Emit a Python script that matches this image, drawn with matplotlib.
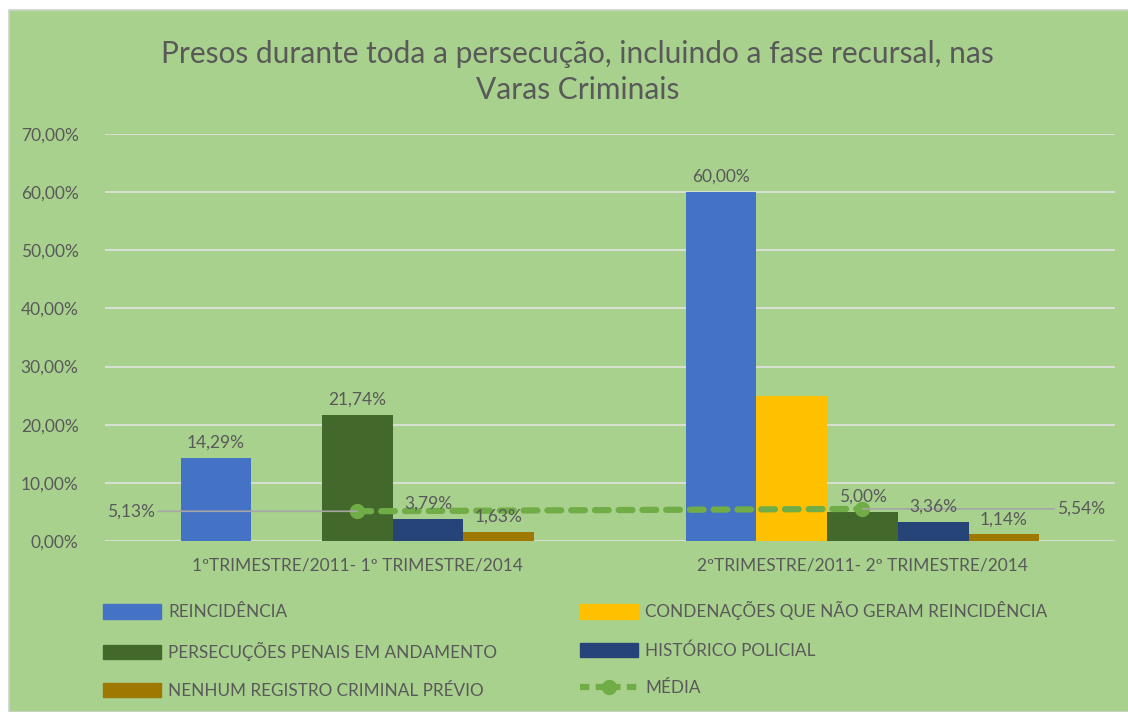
import matplotlib.pyplot as plt
import numpy as np
from matplotlib.patches import Rectangle
from matplotlib.lines import Line2D

plt.rcParams['font.family'] = ['Lato', 'DejaVu Sans']

categorias = ["1ºTRIMESTRE/2011- 1º TRIMESTRE/2014", "2ºTRIMESTRE/2011- 2º TRIMESTRE/2014"]
series = ["REINCIDÊNCIA", "CONDENAÇÕES QUE NÃO GERAM REINCIDÊNCIA",
          "PERSECUÇÕES PENAIS EM ANDAMENTO", "HISTÓRICO POLICIAL",
          "NENHUM REGISTRO CRIMINAL PRÉVIO"]
reincidencia = [14.29, 60.00]
condenacoes = [0.0, 25.0]
persecucoes = [21.74, 5.00]
historico = [3.79, 3.36]
nenhum = [1.63, 1.14]
media = [5.13, 5.54]
mostrar_rotulo = [[True, True], [False, False], [True, True], [True, True], [True, True]]

cores = ["#4472C4", "#FFC000", "#43682B", "#264478", "#9E7800"]
fundo = "#A9D18E"
texto = "#595959"

fig = plt.figure(figsize=(11.28, 7.12), dpi=100)
fig.patch.set_facecolor("white")
fig.patches.append(Rectangle((9 / 1128, 0), 1, 1 - 10 / 712, transform=fig.transFigure,
                             facecolor=fundo, edgecolor="#D0D0D0", linewidth=1.2, zorder=-10))

ax = fig.add_axes([0.093, 0.240, 0.8955, 0.572])
ax.set_facecolor("none")

x = np.arange(len(categorias))
largura = 0.14
valores = [reincidencia, condenacoes, persecucoes, historico, nenhum]
for i, (nome, vals) in enumerate(zip(series, valores)):
    pos = x + (i - 2) * largura
    barras = ax.bar(pos, vals, largura, color=cores[i], label=nome, zorder=2)
    for j, b in enumerate(barras):
        if mostrar_rotulo[i][j]:
            ax.text(b.get_x() + b.get_width() / 2, vals[j] + 1.2,
                    f"{vals[j]:.2f}%".replace(".", ","), ha="center", va="bottom",
                    fontsize=12.5, color=texto, zorder=4)

ax.plot(x, media, color="#70AD47", linestyle=(0, (2.2, 1.6)), linewidth=4.5,
        marker="o", markersize=10, zorder=3, solid_capstyle="round",
        dash_capstyle="round")

# rotulos da média com linhas de chamada
ax.annotate("5,13%", xy=(x[0], media[0]), xytext=(-0.495, media[0]),
            ha="left", va="center", fontsize=12.5, color=texto,
            arrowprops=dict(arrowstyle="-", color="#A6A6A6", lw=1.2, shrinkA=0, shrinkB=0))
ax.annotate("5,54%", xy=(x[1], media[1]), xytext=(1.385, media[1]),
            ha="left", va="center", fontsize=12.5, color=texto,
            arrowprops=dict(arrowstyle="-", color="#A6A6A6", lw=1.2, shrinkA=0, shrinkB=0))

ax.set_xlim(-0.5, 1.5)
ax.set_ylim(0, 70)
ax.set_yticks(np.arange(0, 71, 10))
ax.set_yticklabels([f"{v:.2f}%".replace(".", ",") for v in np.arange(0, 71, 10)])
ax.set_xticks(x)
ax.set_xticklabels(categorias)
ax.tick_params(axis="both", length=0, labelsize=12.5, labelcolor=texto)
ax.tick_params(axis="x", pad=12)
ax.tick_params(axis="y", pad=19)
ax.grid(axis="y", color="#E2E2E2", linewidth=1.2, zorder=0)
for s in ax.spines.values():
    s.set_visible(False)

fig.text(0.512, 0.899, "Presos durante toda a persecução, incluindo a fase recursal, nas\nVaras Criminais",
         ha="center", va="center", fontsize=21.5, color=texto, linespacing=1.35)

handles = [Rectangle((0, 0), 1, 1, color=c) for c in cores]
h_media = Line2D([], [], color="#70AD47", linestyle=(0, (1.5, 1.0)), linewidth=4.5,
                 marker="o", markersize=10)
ordem_h = [handles[0], handles[2], handles[4], handles[1], handles[3], h_media]
ordem_l = [series[0], series[2], series[4], series[1], series[3], "MÉDIA"]
leg = fig.legend(ordem_h, ordem_l, ncol=2, loc="upper left", bbox_to_anchor=(0.078, 0.177),
                 frameon=False, fontsize=12.3, labelcolor=texto, handlelength=3.4,
                 handleheight=0.9, labelspacing=1.27, columnspacing=4.85, handletextpad=0.4)
for t in leg.get_texts():
    t.set_color(texto)

fig.savefig("out.png", dpi=100, facecolor=fig.get_facecolor())
